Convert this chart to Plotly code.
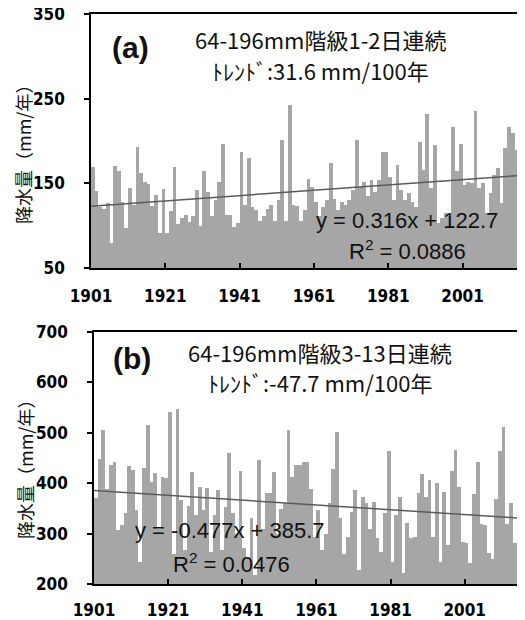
import plotly.graph_objs as go

# annual totals, 1901-2016
years = list(range(1901, 2017))

precip_a = [169, 141, 122, 120, 127, 79, 171, 164, 128, 97,
            145, 124, 193, 162, 151, 149, 123, 136, 91, 143,
            91, 117, 169, 102, 109, 113, 104, 111, 142, 100,
            164, 140, 111, 130, 152, 196, 113, 113, 99, 103,
            187, 125, 180, 122, 118, 105, 112, 120, 124, 105,
            130, 201, 106, 243, 124, 123, 105, 119, 155, 146,
            128, 112, 122, 130, 174, 132, 119, 128, 124, 130,
            142, 201, 146, 152, 135, 154, 140, 154, 187, 187,
            158, 130, 172, 142, 130, 138, 128, 122, 199, 166,
            232, 145, 195, 103, 109, 115, 111, 216, 165, 197,
            148, 152, 150, 235, 144, 150, 115, 138, 160, 168,
            127, 192, 216, 209, 189, 162]

precip_b = [370, 449, 506, 389, 436, 443, 307, 317, 340, 434,
            426, 347, 244, 430, 515, 403, 420, 310, 413, 410,
            542, 260, 548, 367, 267, 355, 423, 337, 393, 347,
            390, 264, 337, 386, 267, 353, 459, 340, 300, 425,
            271, 254, 330, 218, 446, 310, 380, 380, 423, 300,
            348, 360, 505, 413, 436, 436, 442, 442, 389, 293,
            347, 267, 300, 360, 429, 502, 330, 260, 293, 343,
            386, 227, 373, 360, 310, 362, 291, 264, 340, 463,
            244, 337, 373, 221, 322, 291, 294, 380, 419, 373,
            406, 294, 400, 244, 383, 277, 425, 465, 393, 284,
            281, 241, 379, 443, 320, 318, 261, 249, 368, 463,
            512, 320, 360, 281, 334, 378]

tick_years = [1901, 1921, 1941, 1961, 1981, 2001]

# linear trend printed on the chart: y = slope * n + intercept, n = 1..116
trend_a = (0.316, 122.7)
trend_b = (-0.477, 385.7)

W, H = 525, 620
OFF = 8  # page body margin
BAR = "#a6a6a6"
LINE = "#5a5a5a"
TICKFONT = dict(family="Liberation Sans Narrow, DejaVu Sans Condensed, sans-serif",
                size=17, color="black", weight="bold")
JP = "Noto Sans CJK JP, sans-serif"
EQ = "Liberation Sans, Arial, sans-serif"


def fx(x):
    return (x - OFF) / W


def fy(y):
    return 1 - (y - OFF) / H


def trend_line(coef):
    slope, intercept = coef
    xs = [years[0] - 0.5, years[-1] + 0.5]
    ys = [slope * (x - years[0] + 1) + intercept for x in xs]
    return xs, ys


fig = go.Figure()
for k, (vals, coef) in enumerate([(precip_a, trend_a), (precip_b, trend_b)]):
    xa = "x" if k == 0 else "x2"
    ya = "y" if k == 0 else "y2"
    fig.add_trace(go.Bar(x=years, y=vals, marker=dict(color=BAR, line=dict(width=0)),
                         xaxis=xa, yaxis=ya, hoverinfo="x+y"))
    lx, ly = trend_line(coef)
    fig.add_trace(go.Scatter(x=lx, y=ly, mode="lines", line=dict(color=LINE, width=1.5),
                             xaxis=xa, yaxis=ya, hoverinfo="skip"))

axis_common = dict(showline=True, linecolor="black", linewidth=1.5, mirror=True,
                   showgrid=False, zeroline=False, tickfont=TICKFONT, automargin=False,
                   ticklabeloverflow="allow",
                   tickcolor="black", tickwidth=1.5, ticklen=5)
xrange_ = [years[0] - 0.5, years[-1] + 0.5]
xticks = dict(tickmode="array", tickvals=[y - 0.5 for y in tick_years],
              ticktext=[str(y) for y in tick_years])

fig.update_layout(
    width=W, height=H,
    margin=dict(l=0, r=0, t=0, b=0, pad=0, autoexpand=False),
    plot_bgcolor="white", paper_bgcolor="white",
    showlegend=False, bargap=0,
    xaxis=dict(domain=[fx(91), fx(522)], anchor="y", range=xrange_, ticks="inside",
               ticklabelstandoff=12, **xticks, **axis_common),
    yaxis=dict(domain=[fy(268), fy(14)], anchor="x", range=[50, 350],
               tick0=50, dtick=100, ticks="outside", ticklabelstandoff=16, **axis_common),
    xaxis2=dict(domain=[fx(94), fx(524)], anchor="y2", range=xrange_, ticks="inside",
                ticklabelstandoff=10, **xticks, **axis_common),
    yaxis2=dict(domain=[fy(584), fy(332)], anchor="x2", range=[200, 700],
                tick0=200, dtick=100, ticks="outside", ticklabelstandoff=16, **axis_common),
)


def note(x, y, text, size, family=JP, weight="normal", angle=0):
    fig.add_annotation(x=fx(x), y=fy(y), xref="paper", yref="paper", text=text,
                       showarrow=False, xanchor="center", yanchor="middle",
                       textangle=angle,
                       font=dict(family=family, size=size, color="#111111", weight=weight))


# panel (a)
note(130, 48, "(a)", 30, family=EQ, weight="bold")
note(320, 39, "64-196mm階級1-2日連続", 22)
note(320, 70, "ﾄﾚﾝﾄﾞ:31.6 mm/100年", 22)
note(407, 220, "y = 0.316x + 122.7", 22, family=EQ)
note(407, 250, "R<sup>2</sup> = 0.0886", 22, family=EQ)
note(23, 150, "降水量（mm/年）", 18, angle=-90)

# panel (b)
note(132, 358, "(b)", 30, family=EQ, weight="bold")
note(320, 352, "64-196mm階級3-13日連続", 22)
note(320, 382, "ﾄﾚﾝﾄﾞ:-47.7 mm/100年", 22)
note(230, 530, "y = -0.477x + 385.7", 22, family=EQ)
note(231, 563, "R<sup>2</sup> = 0.0476", 22, family=EQ)
note(25, 465, "降水量（mm/年）", 18, angle=-90)

fig.write_html("out.html")
